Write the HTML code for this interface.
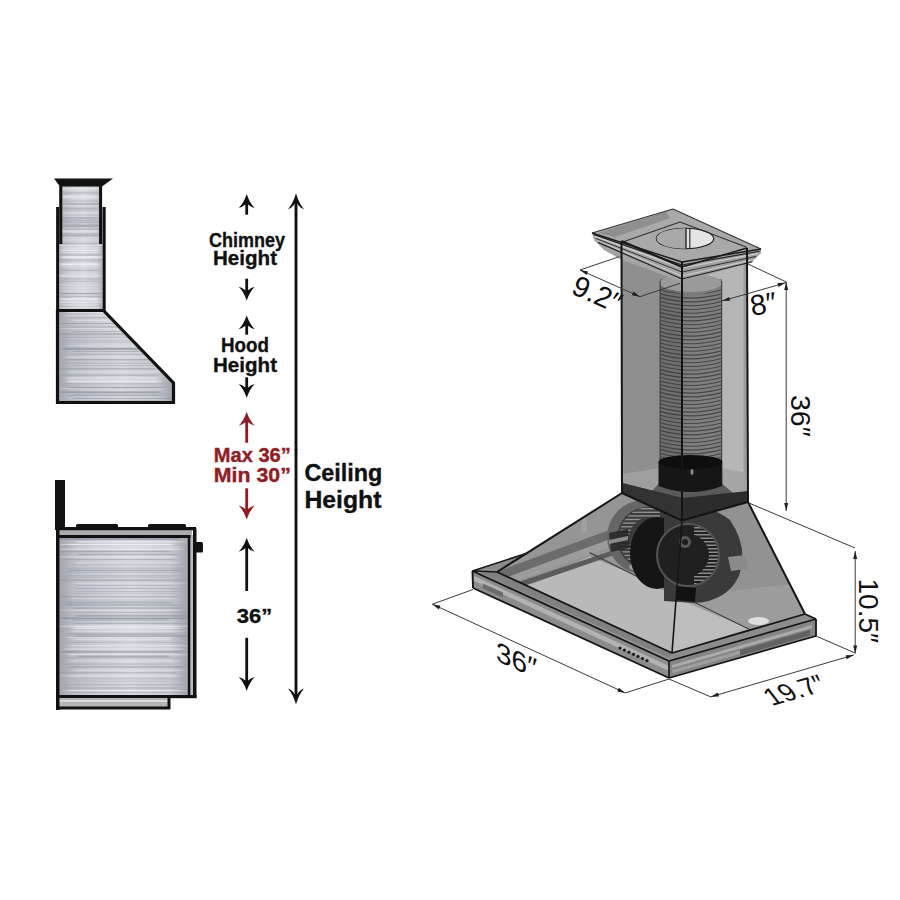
<!DOCTYPE html>
<html><head><meta charset="utf-8"><style>
html,body{margin:0;padding:0;background:#fff;width:900px;height:900px;overflow:hidden}
svg{display:block}
text{font-family:"Liberation Sans",sans-serif}
</style></head><body>
<svg width="900" height="900" viewBox="0 0 900 900">
<defs>
<linearGradient id="steelH" x1="0" y1="0" x2="1" y2="0">
<stop offset="0" stop-color="#b0b4bc"/><stop offset="0.3" stop-color="#cacdd3"/>
<stop offset="0.55" stop-color="#d6d9de"/><stop offset="0.85" stop-color="#c8cbd1"/><stop offset="1" stop-color="#acb0b8"/>
</linearGradient>
<linearGradient id="edgeShade" x1="0" y1="0" x2="1" y2="0">
<stop offset="0" stop-color="#8a8c90" stop-opacity="0.4"/><stop offset="0.12" stop-color="#8a8c90" stop-opacity="0"/>
<stop offset="0.88" stop-color="#8a8c90" stop-opacity="0"/><stop offset="1" stop-color="#8a8c90" stop-opacity="0.4"/>
</linearGradient>
<filter id="soft" x="-5%" y="-5%" width="110%" height="110%"><feGaussianBlur stdDeviation="2 0.35"/></filter>
</defs>
<rect width="900" height="900" fill="#fff"/>

<g id="hoodside">
<rect x="59" y="186" width="43" height="124" fill="url(#steelH)"/>
<rect x="57" y="207" width="47" height="104" fill="url(#steelH)"/>
<clipPath id="cpA"><rect x="59" y="186" width="43" height="124"/><rect x="57" y="207" width="47" height="104"/></clipPath>
<g clip-path="url(#cpA)"><g filter="url(#soft)"><rect x="57.5" y="188.0" width="42.7" height="1.3" fill="#f2f4f6" opacity="0.69"/><rect x="60.1" y="190.3" width="43.5" height="0.8" fill="#e8eaee" opacity="0.42"/><rect x="58.6" y="192.1" width="41.0" height="1.6" fill="#a0a6ae" opacity="0.39"/><rect x="57.3" y="195.6" width="40.6" height="2.0" fill="#e8eaee" opacity="0.84"/><rect x="62.8" y="197.8" width="40.0" height="1.0" fill="#dfe1e5" opacity="0.54"/><rect x="61.0" y="200.6" width="38.7" height="1.0" fill="#a0a6ae" opacity="0.60"/><rect x="63.5" y="203.1" width="37.9" height="2.0" fill="#949aa4" opacity="0.51"/><rect x="59.1" y="205.2" width="41.4" height="1.0" fill="#e8eaee" opacity="0.44"/><rect x="59.9" y="207.5" width="38.7" height="1.6" fill="#868c96" opacity="0.39"/><rect x="60.9" y="209.4" width="37.5" height="1.6" fill="#a0a6ae" opacity="0.38"/><rect x="62.6" y="212.7" width="40.9" height="1.3" fill="#dfe1e5" opacity="0.62"/><rect x="62.2" y="214.5" width="39.7" height="1.3" fill="#a0a6ae" opacity="0.37"/><rect x="59.4" y="217.2" width="37.9" height="1.6" fill="#949aa4" opacity="0.66"/><rect x="59.0" y="219.5" width="39.8" height="2.0" fill="#868c96" opacity="0.43"/><rect x="59.0" y="221.9" width="44.1" height="1.6" fill="#949aa4" opacity="0.49"/><rect x="61.8" y="224.4" width="39.5" height="2.0" fill="#949aa4" opacity="0.70"/><rect x="57.1" y="226.4" width="41.1" height="0.8" fill="#868c96" opacity="0.58"/><rect x="61.3" y="228.4" width="40.5" height="1.3" fill="#949aa4" opacity="0.54"/><rect x="57.4" y="230.3" width="40.3" height="2.0" fill="#dfe1e5" opacity="0.70"/><rect x="60.4" y="233.4" width="40.8" height="2.0" fill="#949aa4" opacity="0.49"/><rect x="57.4" y="235.4" width="46.6" height="1.0" fill="#868c96" opacity="0.47"/><rect x="63.2" y="237.3" width="36.5" height="0.8" fill="#dfe1e5" opacity="0.41"/><rect x="57.9" y="239.2" width="40.1" height="1.3" fill="#dfe1e5" opacity="0.56"/><rect x="57.7" y="242.8" width="43.9" height="1.6" fill="#949aa4" opacity="0.38"/><rect x="60.7" y="244.9" width="42.2" height="1.0" fill="#e8eaee" opacity="0.83"/><rect x="63.1" y="247.6" width="36.0" height="0.8" fill="#f2f4f6" opacity="0.84"/><rect x="60.8" y="249.7" width="37.8" height="1.3" fill="#f2f4f6" opacity="0.75"/><rect x="62.8" y="252.0" width="36.0" height="1.0" fill="#e8eaee" opacity="0.76"/><rect x="57.2" y="254.0" width="44.8" height="2.0" fill="#a0a6ae" opacity="0.36"/><rect x="62.1" y="256.2" width="39.4" height="2.0" fill="#f2f4f6" opacity="0.76"/><rect x="59.4" y="259.7" width="41.2" height="0.8" fill="#868c96" opacity="0.51"/><rect x="59.4" y="263.3" width="40.0" height="2.0" fill="#f2f4f6" opacity="0.81"/><rect x="60.4" y="266.5" width="42.4" height="0.8" fill="#dfe1e5" opacity="0.74"/><rect x="59.8" y="269.7" width="37.5" height="1.3" fill="#a0a6ae" opacity="0.49"/><rect x="63.4" y="272.8" width="34.9" height="1.0" fill="#e8eaee" opacity="0.47"/><rect x="58.1" y="274.7" width="42.0" height="2.0" fill="#dfe1e5" opacity="0.82"/><rect x="63.1" y="276.3" width="35.0" height="0.8" fill="#e8eaee" opacity="0.60"/><rect x="61.1" y="278.3" width="41.0" height="1.3" fill="#a0a6ae" opacity="0.43"/><rect x="60.2" y="280.8" width="39.7" height="1.0" fill="#a0a6ae" opacity="0.47"/><rect x="58.1" y="284.2" width="42.3" height="1.6" fill="#dfe1e5" opacity="0.46"/><rect x="60.3" y="287.5" width="38.5" height="1.0" fill="#e8eaee" opacity="0.48"/><rect x="62.5" y="290.2" width="40.7" height="1.3" fill="#dfe1e5" opacity="0.65"/><rect x="60.6" y="293.0" width="39.5" height="1.0" fill="#868c96" opacity="0.62"/><rect x="61.3" y="296.1" width="41.3" height="0.8" fill="#a0a6ae" opacity="0.69"/><rect x="58.7" y="298.2" width="41.6" height="2.0" fill="#f2f4f6" opacity="0.63"/><rect x="58.0" y="301.6" width="45.2" height="1.3" fill="#e8eaee" opacity="0.78"/><rect x="61.7" y="304.1" width="36.8" height="0.8" fill="#f2f4f6" opacity="0.43"/><rect x="58.0" y="307.5" width="39.8" height="1.0" fill="#dfe1e5" opacity="0.70"/><rect x="57" y="188" width="47" height="122" fill="url(#edgeShade)"/></g></g>
<path d="M57.5,310.5 L103.5,310.5 L173.5,383 L173.5,402.5 L57.5,402.5 Z" fill="url(#steelH)"/>
<clipPath id="cpB"><path d="M57.5,310.5 L103.5,310.5 L173.5,383 L173.5,402.5 L57.5,402.5 Z"/></clipPath>
<g clip-path="url(#cpB)"><g filter="url(#soft)"><rect x="65.6" y="312.0" width="91.1" height="1.0" fill="#e8eaee" opacity="0.58"/><rect x="64.4" y="315.3" width="103.3" height="1.0" fill="#dfe1e5" opacity="0.58"/><rect x="69.3" y="317.0" width="97.9" height="1.3" fill="#a0a6ae" opacity="0.51"/><rect x="73.1" y="319.7" width="96.9" height="1.3" fill="#e8eaee" opacity="0.45"/><rect x="60.2" y="323.0" width="100.5" height="0.8" fill="#868c96" opacity="0.67"/><rect x="67.0" y="326.3" width="94.7" height="1.3" fill="#a0a6ae" opacity="0.67"/><rect x="58.3" y="328.1" width="99.3" height="0.8" fill="#e8eaee" opacity="0.59"/><rect x="72.1" y="330.9" width="93.9" height="1.3" fill="#868c96" opacity="0.37"/><rect x="57.8" y="333.2" width="103.8" height="2.0" fill="#949aa4" opacity="0.57"/><rect x="62.5" y="336.7" width="106.2" height="1.0" fill="#868c96" opacity="0.42"/><rect x="63.1" y="339.8" width="110.6" height="1.3" fill="#a0a6ae" opacity="0.41"/><rect x="60.3" y="341.9" width="105.3" height="0.8" fill="#a0a6ae" opacity="0.54"/><rect x="65.7" y="345.4" width="93.7" height="0.8" fill="#dfe1e5" opacity="0.59"/><rect x="63.0" y="347.8" width="96.4" height="2.0" fill="#868c96" opacity="0.69"/><rect x="71.7" y="350.8" width="102.1" height="1.0" fill="#949aa4" opacity="0.69"/><rect x="71.8" y="353.6" width="87.0" height="1.3" fill="#868c96" opacity="0.38"/><rect x="65.1" y="356.6" width="106.2" height="1.3" fill="#dfe1e5" opacity="0.53"/><rect x="66.6" y="359.1" width="103.1" height="1.3" fill="#949aa4" opacity="0.69"/><rect x="63.7" y="362.6" width="102.0" height="1.3" fill="#868c96" opacity="0.35"/><rect x="71.3" y="365.2" width="100.1" height="1.0" fill="#868c96" opacity="0.38"/><rect x="58.5" y="368.0" width="98.7" height="1.6" fill="#949aa4" opacity="0.57"/><rect x="67.5" y="371.3" width="93.1" height="1.0" fill="#dfe1e5" opacity="0.75"/><rect x="59.5" y="374.3" width="100.0" height="1.6" fill="#a0a6ae" opacity="0.57"/><rect x="65.9" y="377.3" width="92.2" height="2.0" fill="#dfe1e5" opacity="0.72"/><rect x="67.3" y="380.4" width="91.1" height="2.0" fill="#e8eaee" opacity="0.77"/><rect x="63.3" y="383.4" width="108.8" height="1.0" fill="#868c96" opacity="0.40"/><rect x="68.9" y="386.7" width="96.5" height="2.0" fill="#868c96" opacity="0.57"/><rect x="58.6" y="388.3" width="106.2" height="0.8" fill="#dfe1e5" opacity="0.80"/><rect x="61.1" y="391.4" width="99.6" height="1.6" fill="#868c96" opacity="0.65"/><rect x="73.0" y="393.4" width="96.0" height="1.6" fill="#949aa4" opacity="0.38"/><rect x="68.4" y="395.1" width="93.4" height="1.0" fill="#868c96" opacity="0.47"/><rect x="74.1" y="398.0" width="98.2" height="1.0" fill="#868c96" opacity="0.52"/><rect x="65.2" y="400.0" width="95.4" height="1.6" fill="#a0a6ae" opacity="0.45"/><rect x="57" y="312" width="117" height="90" fill="url(#edgeShade)"/></g></g>
<path d="M57.5,310.5 L103.5,310.5 L173.5,383 L173.5,402.5 L57.5,402.5 Z" fill="none" stroke="#111" stroke-width="3.2" stroke-linejoin="miter"/>
<line x1="57.6" y1="207" x2="57.6" y2="311" stroke="#111" stroke-width="3"/>
<line x1="104.2" y1="207" x2="104.2" y2="311" stroke="#111" stroke-width="3"/>
<line x1="60.8" y1="186" x2="60.8" y2="244" stroke="#111" stroke-width="3"/>
<line x1="100.6" y1="186" x2="100.6" y2="244" stroke="#111" stroke-width="3"/>
<path d="M54,178.5 L113,178.5 L102,186.5 L60,186.5 Z" fill="#111"/>
</g>
<g id="range">
<rect x="55" y="480" width="10" height="50" fill="#111"/>
<rect x="76" y="524" width="42" height="5" rx="1.5" fill="#111"/>
<rect x="148" y="524" width="38" height="5" rx="1.5" fill="#111"/>
<rect x="58" y="538" width="131" height="157" fill="url(#steelH)"/>
<clipPath id="cpC"><rect x="58" y="538" width="131" height="157"/></clipPath>
<g clip-path="url(#cpC)"><g filter="url(#soft)"><rect x="58.3" y="538.0" width="121.6" height="2.0" fill="#868c96" opacity="0.68"/><rect x="76.6" y="541.2" width="108.3" height="1.6" fill="#f2f4f6" opacity="0.49"/><rect x="60.6" y="544.0" width="112.3" height="1.0" fill="#f2f4f6" opacity="0.83"/><rect x="75.2" y="546.6" width="106.0" height="0.8" fill="#e8eaee" opacity="0.62"/><rect x="60.8" y="548.5" width="121.5" height="1.6" fill="#f2f4f6" opacity="0.54"/><rect x="60.4" y="550.8" width="110.4" height="1.3" fill="#949aa4" opacity="0.64"/><rect x="77.6" y="553.8" width="99.8" height="1.3" fill="#868c96" opacity="0.49"/><rect x="59.0" y="556.1" width="117.0" height="1.6" fill="#e8eaee" opacity="0.53"/><rect x="64.2" y="559.0" width="109.6" height="1.0" fill="#949aa4" opacity="0.50"/><rect x="75.2" y="562.2" width="102.9" height="1.6" fill="#dfe1e5" opacity="0.58"/><rect x="70.1" y="564.2" width="116.2" height="0.8" fill="#a0a6ae" opacity="0.49"/><rect x="67.3" y="567.5" width="115.0" height="1.6" fill="#a0a6ae" opacity="0.39"/><rect x="69.0" y="569.7" width="112.3" height="1.3" fill="#868c96" opacity="0.46"/><rect x="67.8" y="571.6" width="116.9" height="1.0" fill="#a0a6ae" opacity="0.67"/><rect x="59.8" y="575.0" width="122.5" height="1.6" fill="#a0a6ae" opacity="0.42"/><rect x="58.4" y="576.8" width="113.5" height="1.0" fill="#a0a6ae" opacity="0.42"/><rect x="59.2" y="579.2" width="124.3" height="2.0" fill="#949aa4" opacity="0.47"/><rect x="75.0" y="582.7" width="109.8" height="1.0" fill="#dfe1e5" opacity="0.68"/><rect x="76.7" y="584.9" width="95.6" height="1.0" fill="#a0a6ae" opacity="0.51"/><rect x="75.6" y="588.2" width="104.1" height="0.8" fill="#949aa4" opacity="0.60"/><rect x="77.1" y="591.0" width="107.0" height="0.8" fill="#a0a6ae" opacity="0.65"/><rect x="74.2" y="592.8" width="101.0" height="1.0" fill="#a0a6ae" opacity="0.39"/><rect x="60.5" y="596.1" width="117.3" height="1.6" fill="#868c96" opacity="0.35"/><rect x="70.5" y="597.8" width="104.8" height="1.3" fill="#dfe1e5" opacity="0.51"/><rect x="63.1" y="599.6" width="110.3" height="0.8" fill="#a0a6ae" opacity="0.42"/><rect x="64.2" y="601.2" width="108.3" height="2.0" fill="#949aa4" opacity="0.45"/><rect x="66.1" y="603.3" width="110.1" height="2.0" fill="#868c96" opacity="0.36"/><rect x="59.6" y="605.0" width="124.9" height="1.0" fill="#a0a6ae" opacity="0.58"/><rect x="72.1" y="607.4" width="109.8" height="1.3" fill="#868c96" opacity="0.59"/><rect x="59.3" y="609.8" width="119.9" height="0.8" fill="#dfe1e5" opacity="0.78"/><rect x="75.5" y="611.8" width="111.4" height="1.0" fill="#868c96" opacity="0.44"/><rect x="75.9" y="614.7" width="112.0" height="2.0" fill="#868c96" opacity="0.52"/><rect x="60.8" y="617.5" width="127.2" height="1.6" fill="#868c96" opacity="0.69"/><rect x="72.4" y="619.2" width="97.0" height="1.6" fill="#a0a6ae" opacity="0.66"/><rect x="72.7" y="622.7" width="115.7" height="1.3" fill="#a0a6ae" opacity="0.68"/><rect x="60.1" y="625.6" width="127.3" height="1.6" fill="#f2f4f6" opacity="0.60"/><rect x="72.9" y="627.4" width="108.6" height="1.6" fill="#e8eaee" opacity="0.65"/><rect x="71.9" y="630.5" width="113.3" height="1.3" fill="#f2f4f6" opacity="0.44"/><rect x="67.3" y="633.2" width="109.3" height="1.6" fill="#949aa4" opacity="0.61"/><rect x="73.8" y="635.3" width="114.0" height="1.6" fill="#868c96" opacity="0.51"/><rect x="64.6" y="637.3" width="105.7" height="0.8" fill="#f2f4f6" opacity="0.56"/><rect x="72.8" y="638.9" width="98.1" height="1.3" fill="#f2f4f6" opacity="0.40"/><rect x="72.1" y="641.8" width="107.8" height="0.8" fill="#868c96" opacity="0.39"/><rect x="67.8" y="645.0" width="121.1" height="1.3" fill="#f2f4f6" opacity="0.46"/><rect x="64.4" y="648.4" width="118.3" height="1.3" fill="#e8eaee" opacity="0.67"/><rect x="61.1" y="650.8" width="119.8" height="2.0" fill="#868c96" opacity="0.49"/><rect x="66.4" y="653.7" width="120.6" height="1.6" fill="#f2f4f6" opacity="0.47"/><rect x="77.4" y="655.4" width="92.5" height="2.0" fill="#868c96" opacity="0.50"/><rect x="62.6" y="657.3" width="115.8" height="1.0" fill="#a0a6ae" opacity="0.66"/><rect x="69.1" y="660.5" width="112.5" height="0.8" fill="#f2f4f6" opacity="0.53"/><rect x="61.0" y="663.6" width="110.6" height="1.0" fill="#868c96" opacity="0.44"/><rect x="68.0" y="666.3" width="116.5" height="1.3" fill="#949aa4" opacity="0.70"/><rect x="75.3" y="669.5" width="109.1" height="1.6" fill="#e8eaee" opacity="0.40"/><rect x="59.0" y="672.0" width="118.2" height="1.3" fill="#949aa4" opacity="0.43"/><rect x="61.5" y="675.3" width="115.7" height="1.0" fill="#f2f4f6" opacity="0.63"/><rect x="64.9" y="678.4" width="123.4" height="0.8" fill="#a0a6ae" opacity="0.60"/><rect x="72.4" y="680.7" width="98.7" height="0.8" fill="#949aa4" opacity="0.36"/><rect x="64.1" y="684.0" width="120.9" height="1.3" fill="#949aa4" opacity="0.41"/><rect x="65.8" y="687.1" width="112.4" height="2.0" fill="#949aa4" opacity="0.39"/><rect x="66.1" y="690.0" width="117.4" height="0.8" fill="#f2f4f6" opacity="0.71"/><rect x="66.1" y="692.2" width="122.5" height="0.8" fill="#a0a6ae" opacity="0.66"/><rect x="58" y="538" width="131" height="157" fill="url(#edgeShade)"/></g></g>
<rect x="58" y="530" width="134" height="5" fill="#a9abaf"/>
<rect x="56" y="527" width="140" height="3.2" fill="#111"/>
<rect x="56" y="535" width="136" height="3" fill="#111"/>
<rect x="190.4" y="535" width="3" height="163" fill="#b8babe"/>
<rect x="187.8" y="535" width="2.6" height="163" fill="#111"/>
<path d="M193,527 L194,527 Q196.5,527 196.5,530 L196.5,698 L193,698 Z" fill="#111"/>
<rect x="56" y="527" width="3.5" height="183" fill="#111"/>
<rect x="56" y="695" width="140.5" height="3.2" fill="#111"/>
<rect x="59" y="698" width="109" height="9" fill="#b4b6ba"/>
<rect x="59" y="700" width="109" height="2" fill="#d8dade"/>
<path d="M56,698 L56,709.6 L170.5,709.6 L170.5,698 L167.5,698 L167.5,706.5 L59.5,706.5 L59.5,698 Z" fill="#111"/>
<rect x="195" y="542" width="8" height="10.5" rx="1.5" fill="#111"/>
</g>
<g id="arrows">
<path d="M246.7,194 Q244.1,202.4 238.7,208 Q242.2,207.2 245.29999999999998,204.5 L248.1,204.5 Q251.2,207.2 254.7,208 Q249.29999999999998,202.4 246.7,194 Z" fill="#111"/><line x1="246.7" y1="201.0" x2="246.7" y2="214.7" stroke="#111" stroke-width="2.8"/>
<path d="M246.7,300.7 Q244.1,292.3 238.7,286.7 Q242.2,287.5 245.29999999999998,290.2 L248.1,290.2 Q251.2,287.5 254.7,286.7 Q249.29999999999998,292.3 246.7,300.7 Z" fill="#111"/><line x1="246.7" y1="293.7" x2="246.7" y2="278.7" stroke="#111" stroke-width="2.8"/>
<path d="M246.7,315.3 Q244.1,323.7 238.7,329.3 Q242.2,328.5 245.29999999999998,325.8 L248.1,325.8 Q251.2,328.5 254.7,329.3 Q249.29999999999998,323.7 246.7,315.3 Z" fill="#111"/><line x1="246.7" y1="322.3" x2="246.7" y2="334.7" stroke="#111" stroke-width="2.8"/>
<path d="M246.7,398 Q244.1,389.6 238.7,384 Q242.2,384.8 245.29999999999998,387.5 L248.1,387.5 Q251.2,384.8 254.7,384 Q249.29999999999998,389.6 246.7,398 Z" fill="#111"/><line x1="246.7" y1="391.0" x2="246.7" y2="377.3" stroke="#111" stroke-width="2.8"/>
<path d="M246.7,411.7 Q244.1,420.09999999999997 238.7,425.7 Q242.2,424.9 245.29999999999998,422.2 L248.1,422.2 Q251.2,424.9 254.7,425.7 Q249.29999999999998,420.09999999999997 246.7,411.7 Z" fill="#921b24"/><line x1="246.7" y1="418.7" x2="246.7" y2="442.8" stroke="#921b24" stroke-width="2.8"/>
<path d="M246.7,519.4 Q244.1,511.0 238.7,505.4 Q242.2,506.2 245.29999999999998,508.9 L248.1,508.9 Q251.2,506.2 254.7,505.4 Q249.29999999999998,511.0 246.7,519.4 Z" fill="#921b24"/><line x1="246.7" y1="512.4" x2="246.7" y2="488.3" stroke="#921b24" stroke-width="2.8"/>
<path d="M246.7,537.8 Q244.1,546.1999999999999 238.7,551.8 Q242.2,551.0 245.29999999999998,548.3 L248.1,548.3 Q251.2,551.0 254.7,551.8 Q249.29999999999998,546.1999999999999 246.7,537.8 Z" fill="#111"/><line x1="246.7" y1="544.8" x2="246.7" y2="591" stroke="#111" stroke-width="2.8"/>
<path d="M246.7,691 Q244.1,682.6 238.7,677 Q242.2,677.8 245.29999999999998,680.5 L248.1,680.5 Q251.2,677.8 254.7,677 Q249.29999999999998,682.6 246.7,691 Z" fill="#111"/><line x1="246.7" y1="684.0" x2="246.7" y2="637.8" stroke="#111" stroke-width="2.8"/>
<path d="M296,193.3 Q293.4,202.9 288,209.3 Q291.5,208.5 294.6,203.8 L297.4,203.8 Q300.5,208.5 304,209.3 Q298.6,202.9 296,193.3 Z" fill="#111"/><line x1="296" y1="201.3" x2="296" y2="450" stroke="#111" stroke-width="2.9"/>
<path d="M296,704.4 Q293.4,694.8 288,688.4 Q291.5,689.1999999999999 294.6,693.9 L297.4,693.9 Q300.5,689.1999999999999 304,688.4 Q298.6,694.8 296,704.4 Z" fill="#111"/><line x1="296" y1="696.4" x2="296" y2="449" stroke="#111" stroke-width="2.9"/>
</g>
<text x="209" y="246.7" font-size="20.5" font-weight="bold" fill="#111" stroke="#111" stroke-width="0.35" textLength="76" lengthAdjust="spacingAndGlyphs">Chimney</text>
<text x="213" y="265.3" font-size="20.5" font-weight="bold" fill="#111" stroke="#111" stroke-width="0.35" textLength="64" lengthAdjust="spacingAndGlyphs">Height</text>
<text x="221" y="352" font-size="20.5" font-weight="bold" fill="#111" stroke="#111" stroke-width="0.35" textLength="48" lengthAdjust="spacingAndGlyphs">Hood</text>
<text x="213" y="372" font-size="20.5" font-weight="bold" fill="#111" stroke="#111" stroke-width="0.35" textLength="64" lengthAdjust="spacingAndGlyphs">Height</text>
<text x="213.8" y="461.7" font-size="19.5" font-weight="bold" fill="#921b24" stroke="#921b24" stroke-width="0.35" textLength="77" lengthAdjust="spacingAndGlyphs">Max 36”</text>
<text x="213.8" y="481.7" font-size="19.5" font-weight="bold" fill="#921b24" stroke="#921b24" stroke-width="0.35" textLength="77" lengthAdjust="spacingAndGlyphs">Min 30”</text>
<text x="304.4" y="480.6" font-size="23" font-weight="bold" fill="#111" stroke="#111" stroke-width="0.35" textLength="78" lengthAdjust="spacingAndGlyphs">Ceiling</text>
<text x="304.4" y="508.3" font-size="23" font-weight="bold" fill="#111" stroke="#111" stroke-width="0.35" textLength="77" lengthAdjust="spacingAndGlyphs">Height</text>
<text x="236.7" y="623.3" font-size="20.5" font-weight="bold" fill="#111" stroke="#111" stroke-width="0.35" textLength="35.5" lengthAdjust="spacingAndGlyphs">36”</text>
<g id="iso">
<polygon points="622,493 682,520.5 672,653 497,572" fill="#959595" />
<polygon points="682,520.5 748,502 805,614 672,653" fill="#929292" />
<clipPath id="cpLF"><polygon points="622,493 682,520.5 672,653 497,572"/></clipPath>
<g clip-path="url(#cpLF)">
<polygon points="490,600 590,556.5 632,574 678,598 678,660 490,660" fill="#b9b9b9" />
<polygon points="480,578 612,529 612,538.5 480,587.5" fill="#6c6c6c" />
<polygon points="480,587.5 612,538.5 612,546 480,595" fill="#9c9c9c" />
<polygon points="480,595 620,548 620,553 480,601" fill="#5c5c5c" />
<line x1="589.6" y1="552.6" x2="640" y2="578" stroke="#444" stroke-width="1.2"/>
<polygon points="582,520 587,517 587,531 582,533" fill="#a8a8a8" opacity="0.6"/>
</g>
<polygon points="690,596 790,584 805,614 672,653 676,600" fill="#9c9c9c" />
<polygon points="676.5,598 748,629 672,653" fill="#bdbdbd" />
<line x1="689.7" y1="600" x2="774.8" y2="641.8" stroke="#333" stroke-width="1"/>
<ellipse cx="758.5" cy="621" rx="10.5" ry="4" fill="#dedede"/>
<clipPath id="cpCan"><polygon points="622,493 682,520.5 748,502 805,614 672,653 497,572"/></clipPath>
<clipPath id="cpBladeL"><path d="M650,538 m-31,0 a31,31 0 1,0 62,0 a31,31 0 1,0 -62,0 Z M650,538 m-21,0 a21,21 0 1,1 42,0 a21,21 0 1,1 -42,0 Z" clip-rule="evenodd"/></clipPath>
<clipPath id="cpBladeR"><path d="M688,555 m-30,0 a30,30 0 1,0 60,0 a30,30 0 1,0 -60,0 Z M688,555 m-21,0 a21,21 0 1,1 42,0 a21,21 0 1,1 -42,0 Z" clip-rule="evenodd"/></clipPath>
<g clip-path="url(#cpCan)">
<circle cx="644" cy="537" r="37" fill="#666"/>
<circle cx="648" cy="538" r="31" fill="#3c3c3c"/>
<g clip-path="url(#cpBladeL)">
<rect x="615" y="508.0" width="45" height="1.4" fill="#909090"/>
<rect x="615" y="511.6" width="45" height="1.4" fill="#909090"/>
<rect x="615" y="515.2" width="45" height="1.4" fill="#909090"/>
<rect x="615" y="518.8" width="45" height="1.4" fill="#909090"/>
<rect x="615" y="522.4" width="45" height="1.4" fill="#909090"/>
<rect x="615" y="526.0" width="45" height="1.4" fill="#909090"/>
<rect x="615" y="529.6" width="45" height="1.4" fill="#909090"/>
<rect x="615" y="533.2" width="45" height="1.4" fill="#909090"/>
<rect x="615" y="536.8" width="45" height="1.4" fill="#909090"/>
<rect x="615" y="540.4" width="45" height="1.4" fill="#909090"/>
<rect x="615" y="544.0" width="45" height="1.4" fill="#909090"/>
<rect x="615" y="547.6" width="45" height="1.4" fill="#909090"/>
<rect x="615" y="551.2" width="45" height="1.4" fill="#909090"/>
<rect x="615" y="554.8" width="45" height="1.4" fill="#909090"/>
<rect x="615" y="558.4" width="45" height="1.4" fill="#909090"/>
<rect x="615" y="562.0" width="45" height="1.4" fill="#909090"/>
<rect x="615" y="565.6" width="45" height="1.4" fill="#909090"/>
<rect x="615" y="569.2" width="45" height="1.4" fill="#909090"/>
</g>
<polygon points="609,533 628,529 630,548 611,552" fill="#262626" opacity="0.85"/>
<polygon points="609,540 628,536 628,540 609,544" fill="#a0a0a0" opacity="0.8"/>
<ellipse cx="638" cy="567" rx="9" ry="4" fill="#a8a8a8" opacity="0.8"/>
<ellipse cx="657" cy="553" rx="27" ry="36" fill="#151515"/>
<path d="M664,512 Q702,498 730,520 Q749,548 739,576 Q727,601 695,603 L664,601 Z" fill="#3a3a3a"/>
<circle cx="688" cy="555" r="31" fill="#202020" stroke="#555" stroke-width="2"/>
<g clip-path="url(#cpBladeR)">
<rect x="694" y="527.0" width="30" height="1.5" fill="#8c8c8c"/>
<rect x="694" y="530.5" width="30" height="1.5" fill="#8c8c8c"/>
<rect x="694" y="534.0" width="30" height="1.5" fill="#8c8c8c"/>
<rect x="694" y="537.5" width="30" height="1.5" fill="#8c8c8c"/>
<rect x="694" y="541.0" width="30" height="1.5" fill="#8c8c8c"/>
<rect x="694" y="544.5" width="30" height="1.5" fill="#8c8c8c"/>
<rect x="694" y="548.0" width="30" height="1.5" fill="#8c8c8c"/>
<rect x="694" y="551.5" width="30" height="1.5" fill="#8c8c8c"/>
<rect x="694" y="555.0" width="30" height="1.5" fill="#8c8c8c"/>
<rect x="694" y="558.5" width="30" height="1.5" fill="#8c8c8c"/>
<rect x="694" y="562.0" width="30" height="1.5" fill="#8c8c8c"/>
<rect x="694" y="565.5" width="30" height="1.5" fill="#8c8c8c"/>
<rect x="694" y="569.0" width="30" height="1.5" fill="#8c8c8c"/>
<rect x="694" y="572.5" width="30" height="1.5" fill="#8c8c8c"/>
<rect x="694" y="576.0" width="30" height="1.5" fill="#8c8c8c"/>
<rect x="694" y="579.5" width="30" height="1.5" fill="#8c8c8c"/>
<rect x="694" y="583.0" width="30" height="1.5" fill="#8c8c8c"/>
</g>
<circle cx="685" cy="542" r="6" fill="#5a5a5a"/>
<circle cx="685" cy="542" r="3" fill="#1e1e1e"/>
<polygon points="728,557 745,555 747.5,569 731,571" fill="#8a8a8a" />
<polygon points="676,586 696,588 695,602 676,600" fill="#121212" />
</g>
<polygon points="472.4,571 526,553.5 497,572 672,653 805,614 816,619 669,661" fill="#8c8c8c" />
<polygon points="472.4,571 497,572 672,653 669,661" fill="#979797" />
<polygon points="480,573 497,572 672,653 669,658" fill="#7a7a7a" opacity="0.8"/>
<polygon points="472.4,571 669,661 669,678 473,588" fill="#8c8c8c" />
<polygon points="474,576 669,666 669,671 474,581" fill="#b8b8b8" opacity="0.85"/>
<polygon points="483,583.5 503,592.6 503,597.6 483,588.5" fill="#666" opacity="0.9"/>
<polygon points="669,661 816,619 816,636 669,678" fill="#858585" />
<polygon points="672,665 812,625 812,628 672,668" fill="#b4b4b4" opacity="0.8"/>
<polygon points="740,650 810,630 810,635.5 740,655.5" fill="#5c5c5c" opacity="0.85"/>
<polygon points="672,670 740,650.5 740,654 672,673.5" fill="#a8a8a8" opacity="0.7"/>
<circle cx="620.0" cy="648.0" r="1.6" fill="#1a1a1a"/>
<circle cx="624.5" cy="650.1" r="1.6" fill="#1a1a1a"/>
<circle cx="629.0" cy="652.2" r="1.6" fill="#1a1a1a"/>
<circle cx="633.5" cy="654.3" r="1.6" fill="#1a1a1a"/>
<circle cx="638.0" cy="656.4" r="1.6" fill="#1a1a1a"/>
<circle cx="642.5" cy="658.5" r="1.6" fill="#1a1a1a"/>
<circle cx="647.0" cy="660.6" r="1.6" fill="#1a1a1a"/>
<polygon points="621.5,241 682,267 682,520.5 622,493" fill="#8f8f8f" />
<polygon points="682,267 747,248 748,502 682,520.5" fill="#b6b6b6" />
<polygon points="743.5,249 747,248 748,502 743.5,503" fill="#9c9c9c" />
<rect x="660" y="279" width="22" height="185" fill="#6e6e6e"/>
<rect x="682" y="279" width="40" height="185" fill="#7e7e7e"/>
<ellipse cx="691" cy="283" rx="31" ry="9" fill="#9a9a9a"/>
<clipPath id="cpDuct"><path d="M660,286 Q691,304 722,286 L722,464 L660,464 Z"/></clipPath><g clip-path="url(#cpDuct)">
<path d="M660,286.0 Q691,295.0 722,286.0" fill="none" stroke="#333" stroke-width="1.1" opacity="0.75"/>
<path d="M660,289.8 Q691,298.8 722,289.8" fill="none" stroke="#333" stroke-width="1.1" opacity="0.75"/>
<path d="M660,293.6 Q691,302.6 722,293.6" fill="none" stroke="#333" stroke-width="1.1" opacity="0.75"/>
<path d="M660,297.4 Q691,306.4 722,297.4" fill="none" stroke="#333" stroke-width="1.1" opacity="0.75"/>
<path d="M660,301.2 Q691,310.2 722,301.2" fill="none" stroke="#333" stroke-width="1.1" opacity="0.75"/>
<path d="M660,305.0 Q691,314.0 722,305.0" fill="none" stroke="#333" stroke-width="1.1" opacity="0.75"/>
<path d="M660,308.8 Q691,317.8 722,308.8" fill="none" stroke="#333" stroke-width="1.1" opacity="0.75"/>
<path d="M660,312.6 Q691,321.6 722,312.6" fill="none" stroke="#333" stroke-width="1.1" opacity="0.75"/>
<path d="M660,316.4 Q691,325.4 722,316.4" fill="none" stroke="#333" stroke-width="1.1" opacity="0.75"/>
<path d="M660,320.2 Q691,329.2 722,320.2" fill="none" stroke="#333" stroke-width="1.1" opacity="0.75"/>
<path d="M660,324.0 Q691,333.0 722,324.0" fill="none" stroke="#333" stroke-width="1.1" opacity="0.75"/>
<path d="M660,327.8 Q691,336.8 722,327.8" fill="none" stroke="#333" stroke-width="1.1" opacity="0.75"/>
<path d="M660,331.6 Q691,340.6 722,331.6" fill="none" stroke="#333" stroke-width="1.1" opacity="0.75"/>
<path d="M660,335.4 Q691,344.4 722,335.4" fill="none" stroke="#333" stroke-width="1.1" opacity="0.75"/>
<path d="M660,339.2 Q691,348.2 722,339.2" fill="none" stroke="#333" stroke-width="1.1" opacity="0.75"/>
<path d="M660,343.0 Q691,352.0 722,343.0" fill="none" stroke="#333" stroke-width="1.1" opacity="0.75"/>
<path d="M660,346.8 Q691,355.8 722,346.8" fill="none" stroke="#333" stroke-width="1.1" opacity="0.75"/>
<path d="M660,350.6 Q691,359.6 722,350.6" fill="none" stroke="#333" stroke-width="1.1" opacity="0.75"/>
<path d="M660,354.4 Q691,363.4 722,354.4" fill="none" stroke="#333" stroke-width="1.1" opacity="0.75"/>
<path d="M660,358.2 Q691,367.2 722,358.2" fill="none" stroke="#333" stroke-width="1.1" opacity="0.75"/>
<path d="M660,362.0 Q691,371.0 722,362.0" fill="none" stroke="#333" stroke-width="1.1" opacity="0.75"/>
<path d="M660,365.8 Q691,374.8 722,365.8" fill="none" stroke="#333" stroke-width="1.1" opacity="0.75"/>
<path d="M660,369.6 Q691,378.6 722,369.6" fill="none" stroke="#333" stroke-width="1.1" opacity="0.75"/>
<path d="M660,373.4 Q691,382.4 722,373.4" fill="none" stroke="#333" stroke-width="1.1" opacity="0.75"/>
<path d="M660,377.2 Q691,386.2 722,377.2" fill="none" stroke="#333" stroke-width="1.1" opacity="0.75"/>
<path d="M660,381.0 Q691,390.0 722,381.0" fill="none" stroke="#333" stroke-width="1.1" opacity="0.75"/>
<path d="M660,384.8 Q691,393.8 722,384.8" fill="none" stroke="#333" stroke-width="1.1" opacity="0.75"/>
<path d="M660,388.6 Q691,397.6 722,388.6" fill="none" stroke="#333" stroke-width="1.1" opacity="0.75"/>
<path d="M660,392.4 Q691,401.4 722,392.4" fill="none" stroke="#333" stroke-width="1.1" opacity="0.75"/>
<path d="M660,396.2 Q691,405.2 722,396.2" fill="none" stroke="#333" stroke-width="1.1" opacity="0.75"/>
<path d="M660,400.0 Q691,409.0 722,400.0" fill="none" stroke="#333" stroke-width="1.1" opacity="0.75"/>
<path d="M660,403.8 Q691,412.8 722,403.8" fill="none" stroke="#333" stroke-width="1.1" opacity="0.75"/>
<path d="M660,407.6 Q691,416.6 722,407.6" fill="none" stroke="#333" stroke-width="1.1" opacity="0.75"/>
<path d="M660,411.4 Q691,420.4 722,411.4" fill="none" stroke="#333" stroke-width="1.1" opacity="0.75"/>
<path d="M660,415.2 Q691,424.2 722,415.2" fill="none" stroke="#333" stroke-width="1.1" opacity="0.75"/>
<path d="M660,419.0 Q691,428.0 722,419.0" fill="none" stroke="#333" stroke-width="1.1" opacity="0.75"/>
<path d="M660,422.8 Q691,431.8 722,422.8" fill="none" stroke="#333" stroke-width="1.1" opacity="0.75"/>
<path d="M660,426.6 Q691,435.6 722,426.6" fill="none" stroke="#333" stroke-width="1.1" opacity="0.75"/>
<path d="M660,430.4 Q691,439.4 722,430.4" fill="none" stroke="#333" stroke-width="1.1" opacity="0.75"/>
<path d="M660,434.2 Q691,443.2 722,434.2" fill="none" stroke="#333" stroke-width="1.1" opacity="0.75"/>
<path d="M660,438.0 Q691,447.0 722,438.0" fill="none" stroke="#333" stroke-width="1.1" opacity="0.75"/>
<path d="M660,441.8 Q691,450.8 722,441.8" fill="none" stroke="#333" stroke-width="1.1" opacity="0.75"/>
<path d="M660,445.6 Q691,454.6 722,445.6" fill="none" stroke="#333" stroke-width="1.1" opacity="0.75"/>
<path d="M660,449.4 Q691,458.4 722,449.4" fill="none" stroke="#333" stroke-width="1.1" opacity="0.75"/>
<path d="M660,453.2 Q691,462.2 722,453.2" fill="none" stroke="#333" stroke-width="1.1" opacity="0.75"/>
<path d="M660,457.0 Q691,466.0 722,457.0" fill="none" stroke="#333" stroke-width="1.1" opacity="0.75"/>
<path d="M660,460.8 Q691,469.8 722,460.8" fill="none" stroke="#333" stroke-width="1.1" opacity="0.75"/>
</g>
<rect x="659.5" y="281" width="1.2" height="180" fill="#444"/>
<rect x="721" y="281" width="1.2" height="180" fill="#444"/>
<polygon points="622,474 660,468 722,468 748,473 748,491 682,500 622,483" fill="#a2a2a2" opacity="0.8"/>
<polygon points="658.5,484 722.3,484 738,497 682,506 646,497" fill="#5a5a5a" />
<polygon points="622,483 682,498 748,491 748,502 682,521 622,493" fill="#2c2c2c" />
<polygon points="622,483 682,498 682,521 622,493" fill="#333" />
<path d="M658.5,462 Q690,450 722.3,462 L722.3,486 Q690,498 658.5,486 Z" fill="#161616"/>
<ellipse cx="690.5" cy="462" rx="32" ry="7" fill="#0e0e0e"/>
<ellipse cx="692" cy="472" rx="1.5" ry="3" fill="#888"/>
<polygon points="592,233 673,209 761,249 682,262" fill="#a9a9a9" />
<polygon points="598,233 666,212 670,218 615,237" fill="#8c8c8c" opacity="0.9"/>
<polygon points="592,233 682,262 682,282 622,260 604,250 594,240" fill="#a4a4a4" />
<line x1="593.9" y1="234.65" x2="682" y2="265" stroke="#222" stroke-width="1.2"/>
<line x1="594.8" y1="236.3" x2="682" y2="268" stroke="#d0d0d0" stroke-width="1.2"/>
<line x1="596.0" y1="238.5" x2="682" y2="272" stroke="#333" stroke-width="1"/>
<line x1="597.2" y1="240.7" x2="682" y2="276" stroke="#cfcfcf" stroke-width="1.0"/>
<line x1="598.1" y1="242.35" x2="682" y2="279" stroke="#222" stroke-width="1.2"/>
<polygon points="682,262 761,249 761,253 752,262 682,282" fill="#9e9e9e" />
<line x1="682" y1="265" x2="759.5" y2="251.25" stroke="#222" stroke-width="1.2"/>
<line x1="682" y1="268" x2="758.0" y2="253.5" stroke="#d0d0d0" stroke-width="1.2"/>
<line x1="682" y1="272" x2="756.0" y2="256.5" stroke="#333" stroke-width="1"/>
<line x1="682" y1="276" x2="754.0" y2="259.5" stroke="#cfcfcf" stroke-width="1.0"/>
<line x1="682" y1="279" x2="752.5" y2="261.75" stroke="#222" stroke-width="1.2"/>
<ellipse cx="685" cy="238.5" rx="28.7" ry="10.3" fill="#e4e4e4" stroke="#1a1a1a" stroke-width="1.1"/>
<path d="M656.5,238.5 A28.7,10.3 0 0 1 686,228.2 L686,248.8 A28.7,10.3 0 0 1 656.5,238.5 Z" fill="#a8a8a8"/>
<line x1="686" y1="228.5" x2="686" y2="248.8" stroke="#222" stroke-width="1.4"/>
<line x1="689.8" y1="228.5" x2="689.8" y2="248.8" stroke="#333" stroke-width="1.2"/>
<line x1="622.7" y1="242" x2="680" y2="222" stroke="#333" stroke-width="1.2"/>
<line x1="680" y1="222" x2="746.7" y2="247.3" stroke="#333" stroke-width="1.2"/>
<line x1="621.5" y1="241" x2="682" y2="267" stroke="#1a1a1a" stroke-width="2"/>
<line x1="682" y1="267" x2="747" y2="248" stroke="#1a1a1a" stroke-width="1.4"/>
<line x1="592" y1="233" x2="673" y2="209" stroke="#333" stroke-width="1.1"/>
<line x1="673" y1="209" x2="761" y2="249" stroke="#333" stroke-width="1.1"/>
<line x1="592" y1="233" x2="682" y2="262" stroke="#1a1a1a" stroke-width="1.4"/>
<line x1="682" y1="262" x2="761" y2="249" stroke="#1a1a1a" stroke-width="1.4"/>
<line x1="621.5" y1="241" x2="622" y2="493" stroke="#151515" stroke-width="2"/>
<line x1="682" y1="262" x2="682" y2="520.5" stroke="#151515" stroke-width="2"/>
<line x1="747" y1="248" x2="748" y2="502" stroke="#151515" stroke-width="2"/>
<line x1="622" y1="493" x2="682" y2="520.5" stroke="#151515" stroke-width="2"/>
<line x1="682" y1="520.5" x2="748" y2="502" stroke="#151515" stroke-width="2"/>
<line x1="622" y1="493" x2="497" y2="572" stroke="#151515" stroke-width="2"/>
<line x1="748" y1="502" x2="805" y2="614" stroke="#151515" stroke-width="2"/>
<line x1="682" y1="520.5" x2="672" y2="653" stroke="#151515" stroke-width="1.6"/>
<line x1="497" y1="572" x2="672" y2="653" stroke="#151515" stroke-width="1.8"/>
<line x1="672" y1="653" x2="805" y2="614" stroke="#151515" stroke-width="1.8"/>
<line x1="472.4" y1="571" x2="669" y2="661" stroke="#151515" stroke-width="1.8"/>
<line x1="669" y1="661" x2="816" y2="619" stroke="#151515" stroke-width="1.8"/>
<line x1="473" y1="588" x2="669" y2="678" stroke="#151515" stroke-width="1.8"/>
<line x1="669" y1="678" x2="816" y2="636" stroke="#151515" stroke-width="1.8"/>
<line x1="472.4" y1="571" x2="473" y2="588" stroke="#151515" stroke-width="1.8"/>
<line x1="669" y1="661" x2="669" y2="678" stroke="#151515" stroke-width="1.6"/>
<line x1="816" y1="619" x2="816" y2="636" stroke="#151515" stroke-width="1.8"/>
<line x1="472.4" y1="571" x2="526" y2="553.5" stroke="#151515" stroke-width="1.5"/>
<line x1="472.4" y1="571" x2="497" y2="572" stroke="#151515" stroke-width="1.5"/>
<line x1="805" y1="614" x2="816" y2="619" stroke="#151515" stroke-width="1.5"/>
<line x1="580" y1="270" x2="619.3" y2="256.7" stroke="#3a3a3a" stroke-width="1"/>
<line x1="640" y1="296.7" x2="680" y2="283.3" stroke="#3a3a3a" stroke-width="1"/>
<line x1="747.8" y1="263.9" x2="786.7" y2="282.2" stroke="#3a3a3a" stroke-width="1"/>
<line x1="786.2" y1="282" x2="786.2" y2="511" stroke="#3a3a3a" stroke-width="1"/>
<line x1="749" y1="503" x2="855" y2="548" stroke="#3a3a3a" stroke-width="1"/>
<line x1="855.2" y1="551" x2="855.2" y2="653.5" stroke="#3a3a3a" stroke-width="1"/>
<line x1="816" y1="636" x2="855" y2="653" stroke="#3a3a3a" stroke-width="1"/>
<line x1="710.8" y1="696.8" x2="853.8" y2="655" stroke="#3a3a3a" stroke-width="1"/>
<line x1="669" y1="679" x2="711" y2="697" stroke="#3a3a3a" stroke-width="1"/>
<line x1="432.4" y1="604.2" x2="473" y2="589.5" stroke="#3a3a3a" stroke-width="1"/>
<line x1="432.4" y1="604.2" x2="625.3" y2="692.9" stroke="#3a3a3a" stroke-width="1"/>
<line x1="625.3" y1="692.9" x2="669" y2="679" stroke="#3a3a3a" stroke-width="1"/>
<polygon points="786.2,282.0 788.2,290.0 784.2,290.0" fill="#222"/>
<polygon points="786.2,511.0 784.2,503.0 788.2,503.0" fill="#222"/>
<polygon points="855.2,551.0 857.2,559.0 853.2,559.0" fill="#222"/>
<polygon points="855.2,653.5 853.2,645.5 857.2,645.5" fill="#222"/>
<polygon points="432.4,604.2 440.5,605.7 438.8,609.4" fill="#222"/>
<polygon points="625.3,692.9 617.2,691.4 618.9,687.7" fill="#222"/>
<polygon points="710.8,696.8 717.9,692.6 719.0,696.5" fill="#222"/>
<polygon points="853.8,655.0 846.7,659.2 845.6,655.3" fill="#222"/>
<line x1="580" y1="270" x2="640" y2="296.7" stroke="#3a3a3a" stroke-width="1"/>
<line x1="722" y1="301" x2="785.6" y2="282.8" stroke="#3a3a3a" stroke-width="1"/>
<polygon points="580.0,270.0 588.1,271.4 586.5,275.1" fill="#222"/>
<polygon points="640.0,296.7 631.9,295.3 633.5,291.6" fill="#222"/>
<polygon points="722.0,301.0 729.1,296.9 730.2,300.7" fill="#222"/>
<polygon points="785.6,282.8 778.5,286.9 777.4,283.1" fill="#222"/>
</g>
<text x="0" y="0" font-size="29" fill="#111" transform="translate(570,293) rotate(24)">9.2″</text>
<text x="0" y="0" font-size="29" fill="#111" transform="translate(752,316) rotate(-10)">8″</text>
<text x="0" y="0" font-size="28.5" fill="#111" transform="translate(791,395) rotate(90)">36″</text>
<text x="0" y="0" font-size="28" fill="#111" transform="translate(858.5,578.5) rotate(90)">10.5″</text>
<text x="0" y="0" font-size="28" fill="#111" transform="translate(496,660.5) skewY(24)">36″</text>
<text x="0" y="0" font-size="26" fill="#111" transform="translate(772,706) rotate(-16) skewX(22)">19.7″</text>
</svg></body></html>
